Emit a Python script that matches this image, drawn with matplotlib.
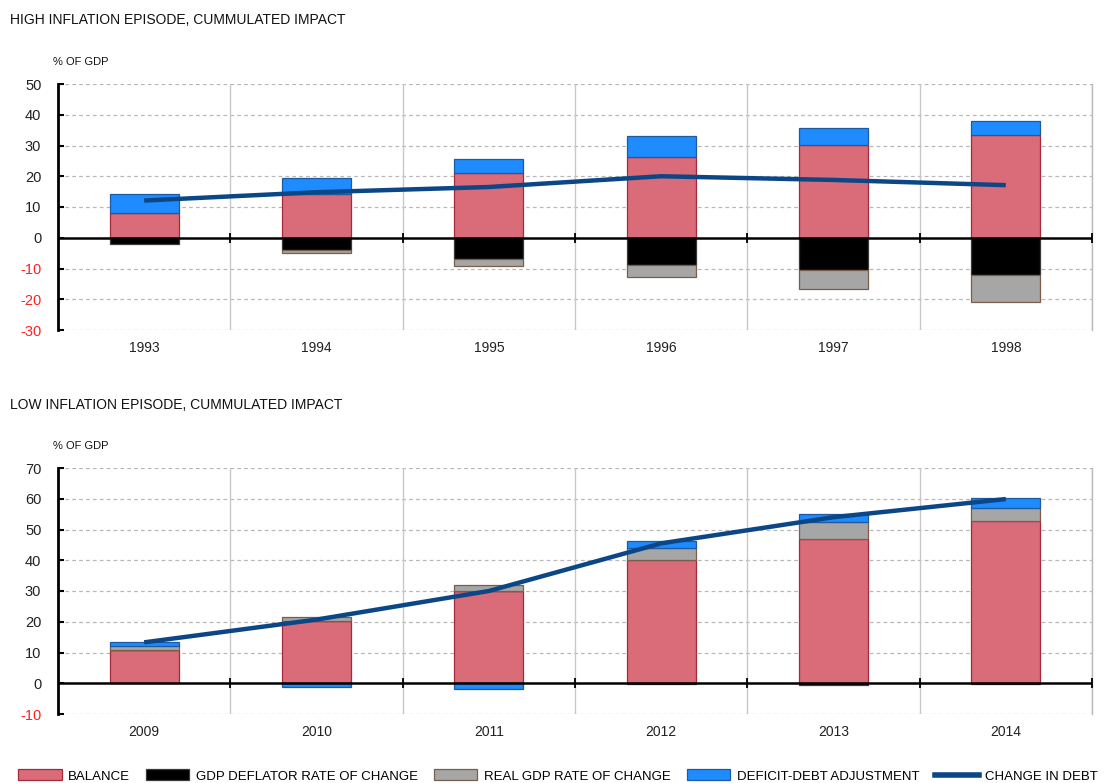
import matplotlib
matplotlib.use("Agg")
import matplotlib.pyplot as plt
import numpy as np
from matplotlib.patches import Patch
from matplotlib.lines import Line2D

plt.rcParams['font.family'] = ['Liberation Sans', 'DejaVu Sans']

# ---------------- data ----------------
years_high = ["1993", "1994", "1995", "1996", "1997", "1998"]
balance_high = [8.0, 14.2, 21.0, 26.4, 30.3, 33.4]
deflator_high = [-2.0, -3.9, -6.8, -9.0, -10.4, -12.0]
realgdp_high = [0.0, -0.9, -2.3, -3.8, -6.2, -8.8]
dda_high = [6.2, 5.2, 4.5, 6.7, 5.4, 4.6]
debt_high = [12.1, 14.8, 16.5, 20.0, 18.8, 17.1]

years_low = ["2009", "2010", "2011", "2012", "2013", "2014"]
balance_low = [10.7, 20.3, 30.0, 40.1, 47.0, 52.9]
deflator_low = [0.0, 0.0, 0.0, -0.3, -0.6, -0.4]
realgdp_low = [1.3, 1.4, 1.9, 4.0, 5.4, 4.1]
dda_low = [1.4, -1.2, -2.0, 2.0, 2.6, 3.4]
debt_low = [13.3, 20.7, 30.0, 45.5, 54.0, 59.9]

legend_labels = ["BALANCE", "GDP DEFLATOR RATE OF CHANGE", "REAL GDP RATE OF CHANGE",
                 "DEFICIT-DEBT ADJUSTMENT", "CHANGE IN DEBT"]

# ---------------- styles ----------------
fills = ["#DA6B78", "#000000", "#A6A6A6", "#1E8BFF"]
edges = ["#A8283C", "#3A3A3A", "#7A5E4C", "#1F5AA0"]
line_color = "#0B4786"

W, H = 1116, 783
fig = plt.figure(figsize=(W / 100, H / 100), dpi=100)


def px_axes(x0, y0, x1, y1):
    return fig.add_axes([x0 / W, 1 - y1 / H, (x1 - x0) / W, (y1 - y0) / H])


def draw_panel(ax, years, series, debt, ymin, ymax):
    n = len(years)
    x = np.arange(n)
    pos_base = np.zeros(n)
    neg_base = np.zeros(n)
    for vals, fc, ec in zip(series, fills, edges):
        vals = np.asarray(vals, dtype=float)
        bottoms = np.where(vals >= 0, pos_base, neg_base)
        ax.bar(x, vals, 0.4, bottom=bottoms, color=fc, edgecolor=ec,
               linewidth=0.9, zorder=3)
        pos_base = pos_base + np.where(vals >= 0, vals, 0)
        neg_base = neg_base + np.where(vals < 0, vals, 0)
    ax.plot(x, debt, color=line_color, lw=3.2, zorder=5, solid_capstyle='butt')

    ax.set_xlim(-0.5, n - 0.5)
    ax.set_ylim(ymin, ymax)
    yt = np.arange(ymin, ymax + 1, 10)
    ax.set_yticks(yt)
    ax.set_yticklabels([str(v) for v in yt], fontsize=10.5)
    for lab, v in zip(ax.get_yticklabels(), yt):
        lab.set_color("#FF2020" if v < 0 else "#222222")
    for v in yt:
        if v != 0:
            ax.axhline(v, color="#B8B8B8", lw=0.9, ls=(0, (3, 2.5)), zorder=1)
    for b in np.arange(0.5, n, 1.0):
        ax.axvline(b, color="#C8C8C8", lw=1.0, zorder=1)
    ax.axhline(0, color="black", lw=1.8, zorder=6)
    ax.plot(np.arange(0.5, n, 1.0), np.zeros(n), ls='none', marker='|',
            ms=7, mew=1.3, color='black', zorder=6, clip_on=False)

    ax.set_xticks(x)
    ax.set_xticklabels(years, fontsize=10, color="#222222")
    ax.tick_params(axis='x', length=0, pad=8)
    ax.tick_params(axis='y', direction='in', length=4, width=1.5, pad=12)
    for s in ["top", "bottom"]:
        ax.spines[s].set_visible(False)
    ax.spines["right"].set_color("#BBBBBB")
    ax.spines["right"].set_linewidth(1.0)
    ax.spines["left"].set_linewidth(2.0)


ax1 = px_axes(58, 84, 1092, 330)
draw_panel(ax1, years_high, [balance_high, deflator_high, realgdp_high, dda_high],
           debt_high, -30, 50)
ax2 = px_axes(58, 468, 1092, 714)
draw_panel(ax2, years_low, [balance_low, deflator_low, realgdp_low, dda_low],
           debt_low, -10, 70)

fig.text(10 / W, 1 - 20 / H, "HIGH INFLATION EPISODE, CUMMULATED IMPACT",
         fontsize=10, va='center', ha='left', color="#111111")
fig.text(53 / W, 1 - 62 / H, "% OF GDP", fontsize=8, va='center', ha='left', color="#111111")
fig.text(10 / W, 1 - 405 / H, "LOW INFLATION EPISODE, CUMMULATED IMPACT",
         fontsize=10, va='center', ha='left', color="#111111")
fig.text(53 / W, 1 - 446 / H, "% OF GDP", fontsize=8, va='center', ha='left', color="#111111")

handles = [Patch(facecolor=fc, edgecolor=ec, linewidth=0.9) for fc, ec in zip(fills, edges)]
handles.append(Line2D([0], [0], color=line_color, lw=4))
leg = fig.legend(handles, legend_labels, loc='center', bbox_to_anchor=(0.5, 1 - 776 / H),
                 ncol=5, frameon=False, handlelength=3.3, handleheight=0.9,
                 handletextpad=0.5, columnspacing=1.2, borderaxespad=0, borderpad=0,
                 prop={'family': ['Liberation Sans', 'DejaVu Sans'], 'size': 9.5})

fig.savefig("out.png", dpi=100, facecolor="white")
